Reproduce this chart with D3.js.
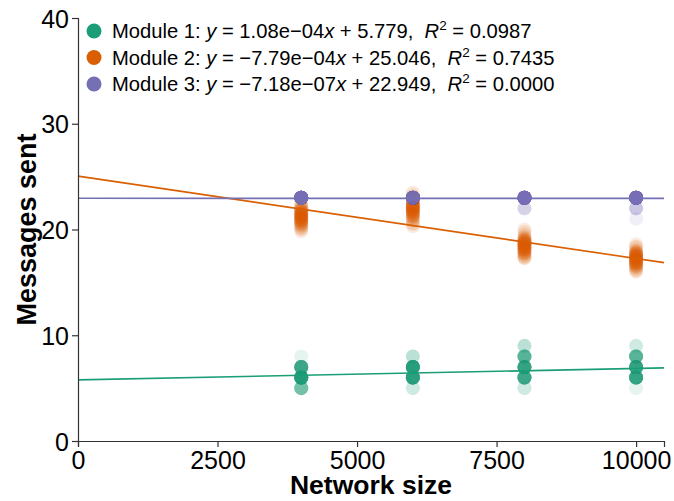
<!DOCTYPE html>
<html>
<head>
<meta charset="utf-8">
<script src="https://cdn.jsdelivr.net/npm/d3@7"></script>
<style>
  body { margin: 0; background: #fff; }
  text { font-family: "Liberation Sans", Arial, Helvetica, sans-serif; }
  .legend text { white-space: pre; }
</style>
</head>
<body>
<svg id="chart" width="674" height="501"></svg>
<script>
// Network sizes tested
const networkSizes = [4000, 6000, 8000, 10000];

// Module 1: integer message counts, number of runs at each level per network size
const module1Levels = [5, 6, 7, 8, 9];
const module1Counts = [
  [8, 25, 16, 1, 0],
  [2, 22, 23, 3, 0],
  [2, 16, 18, 11, 3],
  [1, 18, 18, 11, 2]
];

// Module 2: messages sent per run, per network size
const module2Values = [
  [22.6, 22.4, 22.2, 22.1, 22.0, 22.0, 21.9, 21.9, 21.8, 21.8,
   21.7, 21.7, 21.6, 21.6, 21.6, 21.5, 21.5, 21.5, 21.4, 21.4,
   21.4, 21.3, 21.3, 21.3, 21.2, 21.2, 21.2, 21.1, 21.1, 21.1,
   21.0, 21.0, 21.0, 20.9, 20.9, 20.9, 20.8, 20.8, 20.7, 20.7,
   20.6, 20.6, 20.5, 20.5, 20.4, 20.3, 20.2, 20.1, 20.0, 19.8],
  [23.5, 23.3, 23.1, 22.9, 22.8, 22.7, 22.6, 22.6, 22.5, 22.5,
   22.4, 22.4, 22.3, 22.3, 22.3, 22.2, 22.2, 22.2, 22.1, 22.1,
   22.1, 22.0, 22.0, 22.0, 21.9, 21.9, 21.9, 21.8, 21.8, 21.8,
   21.7, 21.7, 21.7, 21.6, 21.6, 21.5, 21.5, 21.4, 21.4, 21.3,
   21.3, 21.2, 21.2, 21.1, 21.0, 20.9, 20.8, 20.6, 20.5, 20.3],
  [20.0, 19.8, 19.6, 19.4, 19.3, 19.2, 19.1, 19.1, 19.0, 19.0,
   18.9, 18.9, 18.9, 18.8, 18.8, 18.8, 18.7, 18.7, 18.7, 18.6,
   18.6, 18.6, 18.5, 18.5, 18.5, 18.4, 18.4, 18.4, 18.3, 18.3,
   18.3, 18.2, 18.2, 18.2, 18.1, 18.1, 18.1, 18.0, 18.0, 17.9,
   17.9, 17.8, 17.8, 17.7, 17.7, 17.6, 17.5, 17.4, 17.3, 17.3],
  [18.6, 18.4, 18.3, 18.1, 18.0, 17.9, 17.9, 17.8, 17.8, 17.7,
   17.7, 17.7, 17.6, 17.6, 17.6, 17.5, 17.5, 17.5, 17.4, 17.4,
   17.4, 17.3, 17.3, 17.3, 17.2, 17.2, 17.2, 17.1, 17.1, 17.1,
   17.0, 17.0, 17.0, 16.9, 16.9, 16.9, 16.8, 16.8, 16.8, 16.7,
   16.7, 16.6, 16.6, 16.5, 16.5, 16.4, 16.3, 16.2, 16.1, 16.0]
];

// Module 3: integer message counts, number of runs at each level per network size
const module3Levels = [21, 22, 23];
const module3Counts = [
  [0, 0, 50],
  [0, 0, 50],
  [0, 3, 47],
  [1, 4, 45]
];

// Linear fits: y = slope * x + intercept
const moduleNames = ["Module 1", "Module 2", "Module 3"];
const moduleColors = ["#1b9e77", "#d95f02", "#7570b3"];
const fitSlopes = [1.08e-4, -7.79e-4, -7.18e-7];
const fitIntercepts = [5.779, 25.046, 22.949];
const slopeLabels = ["1.08e\u221204", "\u22127.79e\u221204", "\u22127.18e\u221207"];
const interceptLabels = ["5.779", "25.046", "22.949"];
const r2Labels = ["0.0987", "0.7435", "0.0000"];

// Axis ticks
const xTicks = [0, 2500, 5000, 7500, 10000];
const yTicks = [0, 10, 20, 30, 40];

// ---- assemble point records ----
const points = [];
function addCounts(m, levels, counts) {
  counts.forEach((row, i) => {
    row.forEach((n, j) => {
      for (let k = 0; k < n; k++) points.push({ module: m, x: networkSizes[i], y: levels[j] });
    });
  });
}
addCounts(0, module1Levels, module1Counts);
module2Values.forEach((vals, i) => vals.forEach(v => points.push({ module: 1, x: networkSizes[i], y: v })));
addCounts(2, module3Levels, module3Counts);

// ---- layout ----
const svg = d3.select("#chart");
const plotLeft = 78, plotRight = 664, plotTop = 18, plotBottom = 441;

const x = d3.scaleLinear().domain([0, 10500]).range([plotLeft, plotRight]);
const y = d3.scaleLinear().domain([0, 40]).range([plotBottom, plotTop]);

// points
svg.append("g")
  .selectAll("circle")
  .data(points)
  .join("circle")
  .attr("cx", d => x(d.x))
  .attr("cy", d => y(d.y))
  .attr("r", 7)
  .attr("fill", d => moduleColors[d.module])
  .attr("fill-opacity", 0.11);

// fit lines
const xDom = x.domain();
svg.append("g")
  .selectAll("line")
  .data(d3.range(3))
  .join("line")
  .attr("x1", x(xDom[0]))
  .attr("x2", x(xDom[1]))
  .attr("y1", m => y(fitSlopes[m] * xDom[0] + fitIntercepts[m]))
  .attr("y2", m => y(fitSlopes[m] * xDom[1] + fitIntercepts[m]))
  .attr("stroke", m => moduleColors[m])
  .attr("stroke-width", 1.6);

// axes
const axisColor = "#333";
const xAxis = svg.append("g")
  .attr("transform", `translate(0,${plotBottom})`)
  .call(d3.axisBottom(x).tickValues(xTicks).tickFormat(d3.format("d")).tickSizeOuter(0).tickSize(6).tickPadding(4));
const yAxis = svg.append("g")
  .attr("transform", `translate(${plotLeft},0)`)
  .call(d3.axisLeft(y).tickValues(yTicks).tickSizeOuter(0).tickSize(6).tickPadding(3));

[xAxis, yAxis].forEach(g => {
  g.select(".domain").attr("stroke", axisColor).attr("stroke-width", 1.2);
  g.selectAll(".tick line").attr("stroke", axisColor).attr("stroke-width", 1.2);
  g.selectAll(".tick text").attr("fill", "#000").attr("font-size", 25)
    .attr("font-family", "'Liberation Sans', Arial, sans-serif");
});
yAxis.selectAll(".tick text").attr("dy", "0.36em");

// axis titles
svg.append("text")
  .attr("x", (plotLeft + plotRight) / 2)
  .attr("y", 494)
  .attr("text-anchor", "middle")
  .attr("font-size", 26.5)
  .attr("font-weight", "bold")
  .text("Network size");

svg.append("text")
  .attr("transform", `translate(36,${(plotTop + plotBottom) / 2}) rotate(-90)`)
  .attr("text-anchor", "middle")
  .attr("font-size", 27)
  .attr("font-weight", "bold")
  .text("Messages sent");

// legend
const legend = svg.append("g").attr("class", "legend");
const rowY = [31, 57.5, 84];
moduleNames.forEach((name, m) => {
  legend.append("circle")
    .attr("cx", 94).attr("cy", rowY[m]).attr("r", 7.5)
    .attr("fill", moduleColors[m]);
  const t = legend.append("text")
    .attr("x", 112).attr("y", rowY[m] + 7)
    .attr("font-size", 20.2)
    .attr("fill", "#000");
  t.append("tspan").text(name + ": ");
  t.append("tspan").attr("font-style", "italic").text("y");
  t.append("tspan").text(" = " + slopeLabels[m]);
  t.append("tspan").attr("font-style", "italic").text("x");
  t.append("tspan").text(" + " + interceptLabels[m] + ",  ");
  t.append("tspan").attr("font-style", "italic").text("R");
  t.append("tspan").attr("font-size", 13.5).attr("dy", -8).text("2");
  t.append("tspan").attr("dy", 8).text(" = " + r2Labels[m]);
});
</script>
</body>
</html>
